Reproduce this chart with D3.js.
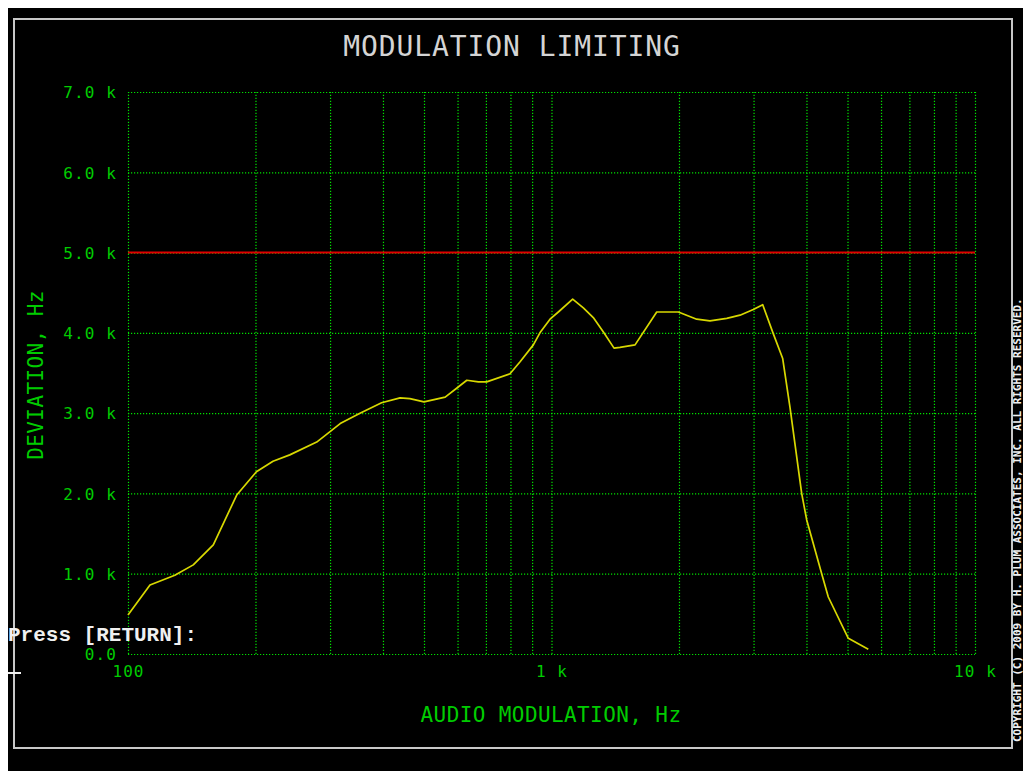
<!DOCTYPE html>
<html>
<head>
<meta charset="utf-8">
<script src="https://cdn.jsdelivr.net/npm/d3@7"></script>
<style>
  html, body { margin: 0; padding: 0; background: #ffffff; }
  svg { display: block; }
</style>
</head>
<body>
<svg id="chart" width="1023" height="771"></svg>
<script>
// ---- data ----
const freqHz = [100, 112.7, 129, 142.6, 159, 180.6, 201, 220, 241, 279, 300, 317, 353, 397, 439, 463, 500, 561, 597, 631, 672, 703, 798, 843, 906, 939, 992, 1038, 1122, 1189, 1255, 1326, 1405, 1451, 1575, 1772, 1993, 2202, 2367, 2593, 2787, 2996, 3153, 3339, 3515, 3658, 3897, 4005, 4345, 4504, 5022, 5598];
const deviationHz = [486, 860, 980, 1110, 1360, 1980, 2270, 2400, 2480, 2640, 2770, 2870, 3000, 3130, 3190, 3180, 3140, 3200, 3310, 3410, 3390, 3390, 3490, 3640, 3850, 4000, 4170, 4260, 4420, 4310, 4190, 4010, 3810, 3820, 3850, 4260, 4260, 4170, 4150, 4180, 4220, 4290, 4350, 3990, 3680, 3070, 2000, 1670, 1000, 710, 195, 60];
const limitHz = [5000];
const yTickValues = [0, 1000, 2000, 3000, 4000, 5000, 6000, 7000];
const yTickLabels = ["0.0", "1.0 k", "2.0 k", "3.0 k", "4.0 k", "5.0 k", "6.0 k", "7.0 k"];
const xGridValues = [100, 200, 300, 400, 500, 600, 700, 800, 900, 1000, 2000, 3000, 4000, 5000, 6000, 7000, 8000, 9000, 10000];
const xLabelValues = [100, 1000, 10000];
const xLabelTexts = ["100", "1 k", "10 k"];
const titleText = "MODULATION LIMITING";
const xTitle = "AUDIO MODULATION, Hz";
const yTitle = "DEVIATION, Hz";
const promptText = "Press [RETURN]:";
const copyrightText = "COPYRIGHT (C) 2009 BY H. PLUM ASSOCIATES, INC.  ALL RIGHTS RESERVED.";

// ---- drawing ----
const svg = d3.select("#chart");
const GREEN = "#00cc00", GRID = "#00e000";
const mono = "'DejaVu Sans Mono', monospace";

const L = 128, R = 975, T = 92, B = 654;
const x = d3.scaleLog().domain([100, 10000]).range([L, R]);
const y = d3.scaleLinear().domain([0, 7000]).range([B, T]);

// screen background
svg.append("rect").attr("x", 0).attr("y", 0).attr("width", 1023).attr("height", 771).attr("fill", "#fff");
svg.append("rect").attr("x", 8).attr("y", 8).attr("width", 1015).attr("height", 763).attr("fill", "#000");
// frame
svg.append("rect").attr("x", 14).attr("y", 19).attr("width", 998).attr("height", 729)
  .attr("fill", "none").attr("stroke", "#c8c8c8").attr("stroke-width", 2);

// title
svg.append("text").attr("x", 512).attr("y", 56).attr("text-anchor", "middle")
  .attr("font-family", mono).attr("font-size", 28).attr("letter-spacing", 0.9)
  .attr("fill", "#d4d4d4").text(titleText);

// y axis + horizontal grid
const yAxis = d3.axisLeft(y).tickValues(yTickValues)
  .tickFormat((d, i) => yTickLabels[i]).tickSize(-(R - L)).tickPadding(11);
const gy = svg.append("g").attr("transform", `translate(${L},0)`).call(yAxis);
gy.select(".domain").remove();
gy.selectAll("line").attr("stroke", GRID).attr("stroke-width", 1.2).attr("stroke-dasharray", "1.2,1.8");
gy.selectAll("text").attr("fill", GREEN).attr("font-family", mono).attr("font-size", 16)
  .attr("letter-spacing", 1.1).attr("dy", "0.36em");

// x axis + vertical grid
const xAxis = d3.axisBottom(x).tickValues(xGridValues)
  .tickFormat(d => { const i = xLabelValues.indexOf(d); return i >= 0 ? xLabelTexts[i] : ""; })
  .tickSize(-(B - T)).tickPadding(12);
const gx = svg.append("g").attr("transform", `translate(0,${B})`).call(xAxis);
gx.select(".domain").remove();
gx.selectAll("line").attr("stroke", GRID).attr("stroke-width", 1.2).attr("stroke-dasharray", "1.2,1.8");
gx.selectAll("text").attr("fill", GREEN).attr("font-family", mono).attr("font-size", 16)
  .attr("letter-spacing", 1.1);

// axis titles
svg.append("text").attr("x", 551).attr("y", 722).attr("text-anchor", "middle")
  .attr("font-family", mono).attr("font-size", 21).attr("letter-spacing", 0.4)
  .attr("fill", GREEN).text(xTitle);
svg.append("text").attr("transform", "translate(43,375) rotate(-90)").attr("text-anchor", "middle")
  .attr("font-family", mono).attr("font-size", 21).attr("letter-spacing", 0.4)
  .attr("fill", GREEN).text(yTitle);

// limit line
svg.selectAll("line.limit").data(limitHz).enter().append("line").attr("class", "limit")
  .attr("x1", L).attr("x2", R).attr("y1", d => y(d)).attr("y2", d => y(d))
  .attr("stroke", "#e00000").attr("stroke-width", 2);

// response curve
const pts = freqHz.map((f, i) => [f, deviationHz[i]]);
svg.append("path").datum(pts)
  .attr("d", d3.line().x(d => x(d[0])).y(d => y(d[1])))
  .attr("fill", "none").attr("stroke", "#d8d800").attr("stroke-width", 1.7)
  .attr("stroke-linejoin", "round");

// prompt
svg.append("text").attr("x", 8).attr("y", 641)
  .attr("font-family", "'Liberation Mono', monospace").attr("font-weight", "bold")
  .attr("font-size", 21).attr("fill", "#f0f0f0").text(promptText);
svg.append("line").attr("x1", 8).attr("x2", 21).attr("y1", 673).attr("y2", 673)
  .attr("stroke", "#f0f0f0").attr("stroke-width", 2);

// copyright
svg.append("text").attr("transform", "translate(1021,742) rotate(-90)")
  .attr("font-family", mono).attr("font-weight", "bold").attr("font-size", 11)
  .attr("fill", "#f0f0f0").text(copyrightText);
</script>
</body>
</html>
